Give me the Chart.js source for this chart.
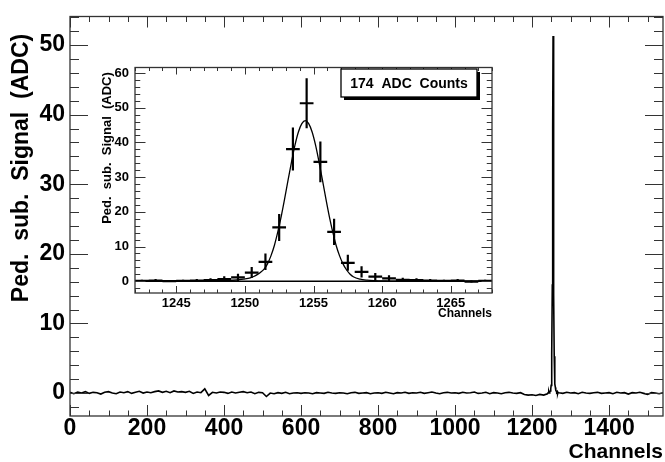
<!DOCTYPE html>
<html>
<head>
<meta charset="utf-8">
<script src="https://cdn.jsdelivr.net/npm/chart.js@4.4.1/dist/chart.umd.min.js"></script>
<style>
html, body { margin: 0; padding: 0; background: #fff; }
#wrap { position: relative; width: 665px; height: 462px; }
#main { position: absolute; left: 0; top: 0; }
#inset { position: absolute; left: 88px; top: 55px; }
</style>
</head>
<body>
<div id="wrap">
  <canvas id="main" width="665" height="462"></canvas>
  <canvas id="inset" width="412" height="270"></canvas>
</div>
<script>
// pedestal subtracted noise, one value every 10 channels (0 .. 1240)
var leftNoise = [
  0.1, -0.1, 0.15, 0.0, 0.2, -0.05, 0.1, 0.05, -0.15, 0.1,
  0.2, 0.0, -0.1, 0.15, 0.05, 0.2, -0.05, 0.1, 0.25, 0.0,
  0.15, 0.05, 0.2, 0.3, 0.1, 0.25, 0.05, 0.3, 0.15, 0.2,
  0.1, 0.25, -0.05, 0.15, 0.05, 0.6, -0.35, 0.1, 0.0, 0.15,
  0.1, -0.05, 0.15, 0.0, 0.1, 0.2, 0.05, 0.15, -0.1, 0.1,
  0.05, -0.5, 0.0, -0.1, 0.05, -0.05, 0.1, -0.1, 0.0, 0.05,
  -0.05, 0.05, 0.0, -0.1, 0.05, 0.0, -0.05, 0.1, 0.0, -0.05,
  0.05, 0.0, -0.1, 0.05, 0.1, -0.05, 0.0, 0.05, -0.1, 0.0,
  0.05, -0.05, 0.1, 0.0, -0.1, 0.05, 0.0, 0.1, -0.05, 0.05,
  0.0, 0.1, -0.05, 0.05, 0.15, 0.0, -0.1, 0.05, 0.1, 0.0,
  0.05, -0.05, 0.1, 0.0, 0.05, 0.15, -0.05, 0.0, 0.1, -0.1,
  0.05, 0.0, -0.1, 0.05, 0.1, 0.0, -0.05, 0.05, -0.2, -0.3,
  -0.25, -0.35, -0.2, -0.3, -0.1
];
// one value every 10 channels (1270 .. 1540)
var rightNoise = [
  0.05, -0.05, 0.1, 0.0, 0.05, -0.1, 0.1, 0.0, -0.05, 0.05,
  0.1, -0.05, 0.0, 0.05, -0.1, 0.1, 0.0, 0.05, -0.15, 0.05,
  0.0, 0.1, -0.05, -0.2, 0.05, 0.0, -0.1, 0.05
];
var noiseStep = 10;
var rightStart = 1270;

// channels around the peak (bin centres), signal and error
var peakChannels = [1242.5, 1243.5, 1244.5, 1245.5, 1246.5, 1247.5, 1248.5, 1249.5, 1250.5, 1251.5, 1252.5, 1253.5, 1254.5,
  1255.5, 1256.5, 1257.5, 1258.5, 1259.5, 1260.5, 1261.5, 1262.5, 1263.5, 1264.5, 1265.5, 1266.5, 1267.5];
var peakSignal = [0.1, 0.2, 0.0, 0.1, 0.2, 0.3, 0.6, 1.1, 2.5, 5.6, 15.5, 38.1, 51.3,
  34.4, 14.2, 5.3, 2.7, 1.3, 0.8, 0.4, 0.3, 0.2, 0.1, 0.2, -0.1, 0.1];
var peakError = [0.3, 0.45, 0.2, 0.3, 0.45, 0.55, 0.8, 1.05, 1.6, 2.4, 3.9, 6.2, 7.2,
  5.9, 3.8, 2.3, 1.6, 1.1, 0.9, 0.6, 0.55, 0.45, 0.3, 0.45, 0.3, 0.3];

// gaussian fit curve
var fitX = [1242, 1244, 1246, 1247.5, 1248.5, 1249.4, 1249.9, 1250.4, 1250.65, 1250.9, 1251.15, 1251.4, 1251.65,
  1251.9, 1252.15, 1252.4, 1252.65, 1252.9, 1253.15, 1253.4, 1253.65, 1253.9, 1254.15, 1254.4, 1254.65, 1254.9,
  1255.15, 1255.4, 1255.65, 1255.9, 1256.15, 1256.4, 1256.65, 1256.9, 1257.15, 1257.4, 1257.65, 1257.9, 1258.4,
  1258.9, 1259.4, 1260.5, 1262, 1264, 1266, 1268];
var fitY = [0.0, 0.0, 0.02, 0.08, 0.2, 0.35, 0.6, 0.95, 1.35, 1.9, 2.6, 3.5, 5.0,
  7.3, 10.3, 14.2, 18.7, 23.8, 29.2, 34.4, 39.2, 43.0, 45.4, 46.3, 45.4, 43.0,
  39.2, 34.4, 29.2, 23.8, 18.7, 14.2, 10.3, 7.3, 5.0, 3.3, 2.1, 1.3, 0.6,
  0.3, 0.15, 0.05, 0.0, 0.0, 0.0, 0.0];

// axes
var mainXLabels = [0, 200, 400, 600, 800, 1000, 1200, 1400];
var mainYLabels = [0, 10, 20, 30, 40, 50];
var insetXLabels = [1245, 1250, 1255, 1260, 1265];
var insetYLabels = [0, 10, 20, 30, 40, 50, 60];
var legendText = "174  ADC  Counts";
var yTitle = "Ped.  sub.  Signal  (ADC)";
var xTitle = "Channels";

var FONT = "'Liberation Sans', Arial, Helvetica, sans-serif";

function tickList(min, max, step) {
  var out = [];
  for (var k = Math.ceil(min / step); k * step <= max; k++) out.push({ value: k * step });
  return out;
}

function isMajor(v, labels) {
  return labels.indexOf(v) >= 0 || (v % (labels[1] - labels[0]) === 0);
}

// frame, inward ticks on all four sides and titles
function framePlugin(cfg) {
  return {
    id: "frame",
    afterDatasetsDraw: function(chart) {
      var ctx = chart.ctx, a = chart.chartArea, x = chart.scales.x, y = chart.scales.y;
      ctx.save();
      ctx.strokeStyle = "#333";
      ctx.lineWidth = 1;
      ctx.beginPath();
      x.ticks.forEach(function(t) {
        var px = Math.round(x.getPixelForValue(t.value)) + 0.5;
        var len = isMajor(t.value, cfg.xLabels) ? cfg.xLen : cfg.xLen / 2;
        ctx.moveTo(px, a.bottom); ctx.lineTo(px, a.bottom - len);
        ctx.moveTo(px, a.top); ctx.lineTo(px, a.top + len);
      });
      y.ticks.forEach(function(t) {
        var py = Math.round(y.getPixelForValue(t.value)) + 0.5;
        var len = isMajor(t.value, cfg.yLabels) ? cfg.yLen : cfg.yLen / 2;
        ctx.moveTo(a.left, py); ctx.lineTo(a.left + len, py);
        ctx.moveTo(a.right, py); ctx.lineTo(a.right - len, py);
      });
      ctx.stroke();
      ctx.lineWidth = 1.3;
      ctx.strokeRect(a.left, a.top, a.right - a.left, a.bottom - a.top);

      ctx.fillStyle = "#000";
      ctx.font = "bold " + cfg.yTitleSize + "px " + FONT;
      ctx.textAlign = "center";
      ctx.textBaseline = "middle";
      ctx.translate(cfg.yTitleX, cfg.yTitleY);
      ctx.rotate(-Math.PI / 2);
      ctx.fillText(yTitle, 0, 0);
      ctx.setTransform(1, 0, 0, 1, 0, 0);
      ctx.font = "bold " + cfg.xTitleSize + "px " + FONT;
      ctx.textAlign = "right";
      ctx.fillText(xTitle, a.right, cfg.xTitleY);

      if (cfg.legend) {
        var L = cfg.legend;
        ctx.fillStyle = "#000";
        ctx.fillRect(L.x + 3, L.y + 3, L.w, L.h);
        ctx.fillStyle = "#fff";
        ctx.fillRect(L.x, L.y, L.w, L.h);
        ctx.lineWidth = 1.3;
        ctx.strokeStyle = "#000";
        ctx.strokeRect(L.x, L.y, L.w, L.h);
        ctx.fillStyle = "#000";
        ctx.font = "bold 14px " + FONT;
        ctx.textAlign = "center";
        ctx.fillText(legendText, L.x + L.w / 2, L.y + L.h / 2 + 1);
      }
      ctx.restore();
    }
  };
}

function axis(min, max, step, labels, size, pad, fixed, horiz) {
  return {
    type: "linear", min: min, max: max,
    grid: { display: false, drawTicks: false },
    border: { display: false },
    afterBuildTicks: function(s) { s.ticks = tickList(min, max, step); },
    afterFit: function(s) { if (horiz) s.height = fixed; else s.width = fixed; },
    ticks: {
      autoSkip: false, maxRotation: 0, minRotation: 0, padding: pad, color: "#000",
      font: { family: FONT, size: size, weight: "bold", lineHeight: 1 },
      callback: function(v) { return labels.indexOf(v) >= 0 ? String(v) : ""; }
    }
  };
}

// main spectrum
var mainPoints = [];
leftNoise.forEach(function(v, i) { mainPoints.push({ x: i * noiseStep, y: v }); });
peakChannels.forEach(function(c, i) { mainPoints.push({ x: c, y: peakSignal[i] }); });
rightNoise.forEach(function(v, i) { mainPoints.push({ x: rightStart + i * noiseStep, y: v }); });

new Chart(document.getElementById("main"), {
  type: "line",
  data: {
    datasets: [{
      data: mainPoints, borderColor: "#000", borderWidth: 1.6,
      pointRadius: 0, tension: 0, fill: false
    }]
  },
  options: {
    responsive: false, animation: false, devicePixelRatio: 1,
    layout: { padding: { top: 13, right: 2, left: 0, bottom: 0 } },
    plugins: { legend: { display: false }, tooltip: { enabled: false } },
    scales: {
      x: axis(0, 1540, 50, mainXLabels, 23, 1, 46, true),
      y: axis(-3.3, 54.1, 2, mainYLabels, 23, 5, 70, false)
    }
  },
  plugins: [framePlugin({
    xLabels: mainXLabels, yLabels: mainYLabels, xLen: 11, yLen: 18,
    yTitleSize: 23, yTitleX: 22, yTitleY: 168, xTitleSize: 21, xTitleY: 452
  })]
});

// inset: zoom on the peak with error bars and fit
var hBars = [], vBars = [];
peakChannels.forEach(function(c, i) {
  hBars.push({ x: c - 0.5, y: peakSignal[i] }, { x: c + 0.5, y: peakSignal[i] }, { x: c, y: null });
  vBars.push({ x: c, y: peakSignal[i] - peakError[i] }, { x: c, y: peakSignal[i] + peakError[i] }, { x: c, y: null });
});
var fitPoints = fitX.map(function(v, i) { return { x: v, y: fitY[i] }; });
var insetMin = 1242, insetMax = 1268;

new Chart(document.getElementById("inset"), {
  type: "line",
  data: {
    datasets: [
      { data: [{ x: insetMin, y: 0 }, { x: insetMax, y: 0 }], borderColor: "#000", borderWidth: 1.5, pointRadius: 0 },
      { data: fitPoints, borderColor: "#000", borderWidth: 1.3, pointRadius: 0, cubicInterpolationMode: "monotone" },
      { data: hBars, borderColor: "#000", borderWidth: 2.2, pointRadius: 0, spanGaps: false },
      { data: vBars, borderColor: "#000", borderWidth: 2.2, pointRadius: 0, spanGaps: false }
    ]
  },
  options: {
    responsive: false, animation: false, devicePixelRatio: 1,
    layout: { padding: { top: 6, right: 8, left: 0, bottom: 0 } },
    plugins: { legend: { display: false }, tooltip: { enabled: false } },
    scales: {
      x: axis(insetMin, insetMax, 1, insetXLabels, 13, 4, 32, true),
      y: axis(-3.4, 61.6, 2, insetYLabels, 13, 6, 47, false)
    }
  },
  plugins: [framePlugin({
    xLabels: insetXLabels, yLabels: insetYLabels, xLen: 7, yLen: 10.5,
    yTitleSize: 13, yTitleX: 19, yTitleY: 93, xTitleSize: 12, xTitleY: 259,
    legend: { x: 253, y: 14, w: 136, h: 28 }
  })]
});
</script>
</body>
</html>
